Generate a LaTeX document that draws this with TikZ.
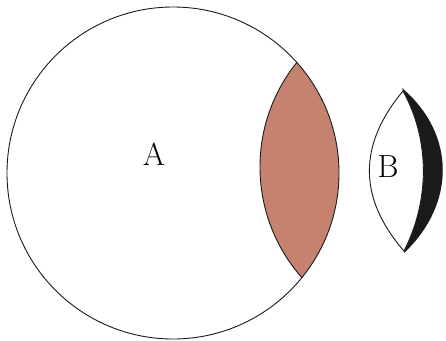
\documentclass[tikz,border=0pt]{standalone}
\usepackage{xcolor}
\definecolor{lensfill}{HTML}{C5836F}
\definecolor{ink}{HTML}{1A1A1A}
\usetikzlibrary{positioning}
\tikzset{
  outline/.style={draw=ink,line width=0.9pt},
  lab/.style={font=\fontsize{32}{32}\selectfont,inner sep=0pt},
}
\begin{document}
\begin{tikzpicture}[x=1pt,y=-1pt]
\useasboundingbox (0,0) rectangle (446,340);
% big circle A and the shaded overlap
\coordinate (cA) at (173,173);
\coordinate (cL) at (427,167);
\begin{scope}
  \clip (cA) circle[radius=166];
  \fill[lensfill] (cL) circle[radius=167];
  \draw[outline] (cL) circle[radius=167];
\end{scope}
\draw[outline] (cA) circle[radius=166];
\node[lab] (A) at (154,154) {A};
% small shape B with dark rim
\coordinate (bT) at (403,91);
\coordinate (bB) at (404,251);
\coordinate (oT) at (402,88);
\coordinate (oB) at (404,253);
\fill[ink] (oT) .. controls (457,135) and (455,205) .. (oB) -- (bB)
  .. controls (430,200) and (430,140) .. (bT) -- cycle;
\draw[outline,fill=white] (bT) .. controls (358,145) and (358,198) .. (bB)
  .. controls (430,200) and (430,140) .. (bT) -- cycle;
\node[lab] (B) at (388,167) {B};
\end{tikzpicture}
\end{document}
